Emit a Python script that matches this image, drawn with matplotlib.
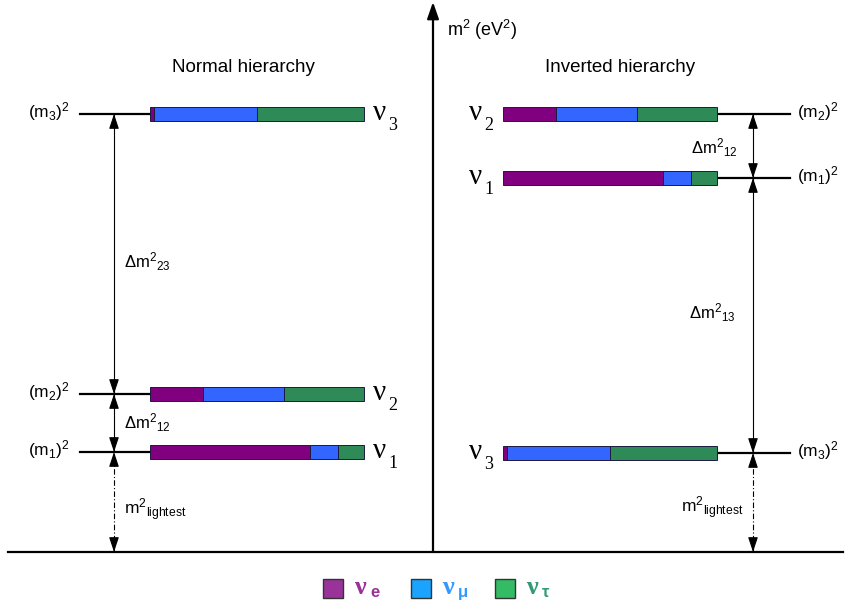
import numpy as np
import matplotlib.pyplot as plt

plt.rcParams['font.family'] = ['Liberation Sans', 'DejaVu Sans']
plt.rcParams['mathtext.fontset'] = 'custom'
plt.rcParams['mathtext.rm'] = 'Liberation Sans'
plt.rcParams['mathtext.it'] = 'Liberation Sans:italic'
plt.rcParams['mathtext.default'] = 'rm'

# flavour content of each mass state (fractions e, mu, tau)
flavours = ['e', 'μ', 'τ']
mix_1 = [0.75, 0.13, 0.12]
mix_2 = [0.25, 0.375, 0.375]
mix_3 = [0.02, 0.48, 0.50]
mixes = [mix_1, mix_2, mix_3]
states = ['1', '2', '3']

# m^2 levels, arbitrary units (0 = bottom line)
normal_levels = [100, 158, 438]     # m1, m2, m3
inverted_levels = [374, 438, 99]    # m1, m2, m3

bar_cols = ['#800080', '#3366ff', '#2e8b57']
leg_cols = ['#993399', '#1aa3ff', '#33bb66']
txt_cols = ['#993399', '#3399ff', '#339977']

fig = plt.figure(figsize=(8.5, 6.09), dpi=100)
ax = fig.add_axes([0, 0, 1, 1])
ax.set_xlim(0, 850)
ax.set_ylim(-57, 552)
ax.axis('off')

bar_w = 214
bar_h = 14


def arrow_head(x, y, up):
    # small filled head with tip at (x, y)
    ax.annotate('', xy=(x, y), xytext=(x, y - 13 if up else y + 13),
                arrowprops=dict(arrowstyle='-|>,head_length=0.9,head_width=0.3',
                                color='k', lw=0.8, shrinkA=0, shrinkB=0))


def double_arrow(x, y0, y1, ls='-'):
    ax.plot([x, x], [y0, y1], color='k', lw=0.8, ls=ls)
    arrow_head(x, y0, up=False)
    arrow_head(x, y1, up=True)


def draw_panel(levels, bar_x, line_x0, line_x1, lab_x, lab_ha, nu_x):
    for i, lev in enumerate(levels):
        ax.plot([line_x0, line_x1], [lev, lev], color='k', lw=1.6, zorder=1)
        left = bar_x
        for f in range(3):
            ax.barh(lev, mixes[i][f] * bar_w, left=left, height=bar_h,
                    color=bar_cols[f], edgecolor='#1a1a40', lw=0.7, zorder=3)
            left += mixes[i][f] * bar_w
        ax.text(lab_x, lev + 2, r'(m$_%s$)$^2$' % states[i], fontsize=12.5,
                ha=lab_ha, va='center')
        ax.text(nu_x, lev - 6, 'ν', fontsize=21, family='Liberation Serif',
                va='baseline', ha='left')
        ax.text(nu_x + 15, lev - 16, states[i], fontsize=13,
                family='Liberation Serif', va='baseline', ha='left')


# axes of the diagram
ax.plot([8, 843], [0, 0], color='k', lw=1.6)
ax.annotate('', xy=(433, 550), xytext=(433, 0),
            arrowprops=dict(arrowstyle='-|>,head_length=1.0,head_width=0.35',
                            color='k', lw=1.6, shrinkA=0, shrinkB=0))
ax.text(447, 522, r'm$^2$ (eV$^2$)', fontsize=13, ha='left', va='center')

# normal hierarchy
ax.text(243, 484, 'Normal hierarchy', fontsize=13.5, ha='center', va='center')
draw_panel(normal_levels, 150, 80, 150, 70, 'right', 373)
m1, m2, m3 = normal_levels
double_arrow(114, m2, m3)
double_arrow(114, m1, m2)
double_arrow(114, 0, m1, ls=(0, (5, 2, 1, 2)))
ax.text(124, 290, r'$\Delta$m$^2{}_{23}$', fontsize=12, ha='left', va='center')
ax.text(124, 129, r'$\Delta$m$^2{}_{12}$', fontsize=12, ha='left', va='center')
ax.text(124, 42, r'm$^2{}_{\mathrm{lightest}}$', fontsize=12.5, ha='left', va='center')

# inverted hierarchy
ax.text(620, 484, 'Inverted hierarchy', fontsize=13.5, ha='center', va='center')
draw_panel(inverted_levels, 503, 717, 790, 797, 'left', 469)
m1, m2, m3 = inverted_levels
double_arrow(753, m1, m2)
double_arrow(753, m3, m1)
double_arrow(753, 0, m3, ls=(0, (5, 2, 1, 2)))
ax.text(691, 404, r'$\Delta$m$^2{}_{12}$', fontsize=12, ha='left', va='center')
ax.text(689, 239, r'$\Delta$m$^2{}_{13}$', fontsize=12, ha='left', va='center')
ax.text(681, 44, r'm$^2{}_{\mathrm{lightest}}$', fontsize=12.5, ha='left', va='center')

# legend
leg_x = [323, 411, 495]
for f in range(3):
    ax.bar(leg_x[f], 19, width=20, bottom=-46, align='edge',
           color=leg_cols[f], edgecolor='#333333', lw=1.0)
    ax.text(leg_x[f] + 31, -42, 'ν', fontsize=19, family='Liberation Serif',
            fontweight='bold', color=txt_cols[f], va='baseline', ha='left')
    ax.text(leg_x[f] + 47, -45, flavours[f], fontsize=12, fontweight='bold',
            color=txt_cols[f], va='baseline', ha='left')

fig.savefig('out.png', dpi=100)
